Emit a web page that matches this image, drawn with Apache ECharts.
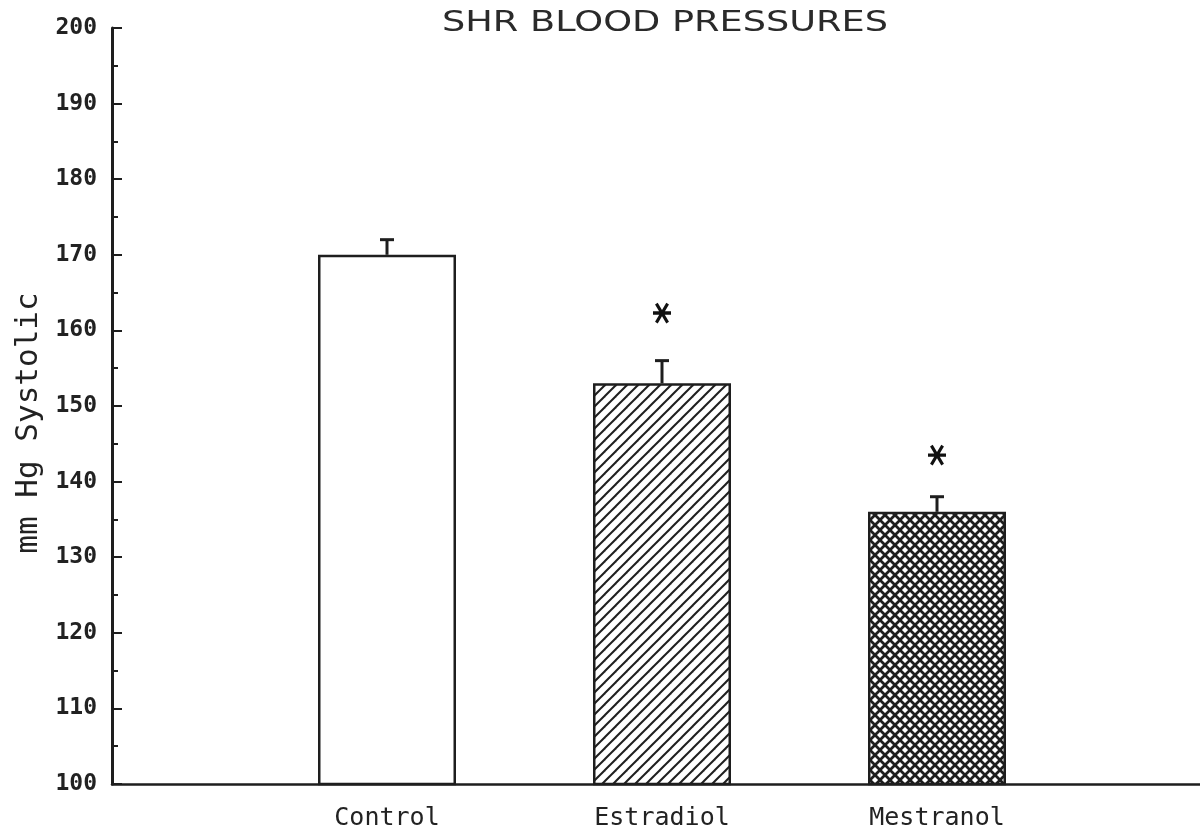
<!DOCTYPE html>
<html>
<head>
<meta charset="utf-8">
<title>SHR Blood Pressures</title>
<script src="https://cdn.jsdelivr.net/npm/echarts@6/dist/echarts.min.js"></script>
<style>
  html, body { margin: 0; padding: 0; background: #ffffff; }
  #chart { width: 1200px; height: 832px; }
</style>
</head>
<body>
<div id="chart"></div>
<script>
// Treatment groups (blank slots at both ends keep the spacing of the plot)
const categories = ['', 'Control', 'Estradiol', 'Mestranol', ''];
// Mean systolic pressure, mm Hg
const meanValues = [null, 170, 153, 136, null];
// Upper end of the error bar, mm Hg
const upperValues = [null, 172, 156, 138, null];
// Height of the significance asterisk, mm Hg
const starValues = [null, null, 162.3, 143.5, null];
// Y axis range and step
const yTicks = { min: 100, max: 200, step: 10 };

const INK = '#1e1e1e';

// Fill patterns drawn on small tiles
function hatchTile(size, width, cross) {
  const c = document.createElement('canvas');
  c.width = size; c.height = size;
  const ctx = c.getContext('2d');
  ctx.fillStyle = '#ffffff';
  ctx.fillRect(0, 0, size, size);
  ctx.strokeStyle = INK;
  ctx.lineWidth = width;
  ctx.lineCap = 'square';
  const seg = (x1, y1, x2, y2) => { ctx.beginPath(); ctx.moveTo(x1, y1); ctx.lineTo(x2, y2); ctx.stroke(); };
  // "/" direction
  seg(-size, 2 * size, 2 * size, -size);
  seg(-size, size, size, -size);
  seg(0, 2 * size, 2 * size, 0);
  if (cross) {
    // "\" direction
    seg(-size, -size, 2 * size, 2 * size);
    seg(-size, 0, size, 2 * size);
    seg(0, -size, 2 * size, size);
  }
  return c;
}

const fills = [
  null,
  '#ffffff',
  { image: hatchTile(11, 2, false), repeat: 'repeat' },
  { image: hatchTile(10, 2.7, true), repeat: 'repeat' },
  null
];

const barData = meanValues.map((v, i) => ({
  value: v,
  itemStyle: { color: fills[i] || '#ffffff', borderColor: INK, borderWidth: 2.5 }
}));

const errorData = meanValues
  .map((v, i) => [i, v, upperValues[i]])
  .filter(d => d[1] != null);

const starData = starValues
  .map((v, i) => [i, v])
  .filter(d => d[1] != null);

const chart = echarts.init(document.getElementById('chart'), null, { renderer: 'canvas' });

chart.setOption({
  backgroundColor: '#ffffff',
  animation: false,
  grid: { left: 112, top: 28, width: 1100, height: 756, containLabel: false, outerBoundsMode: 'none' },
  graphic: [{
    type: 'text',
    x: 665,
    y: 24,
    scaleX: 1.31,
    style: {
      text: 'SHR BLOOD PRESSURES',
      font: '28px "DejaVu Sans"',
      fill: '#2a2a2a',
      align: 'center',
      verticalAlign: 'middle'
    }
  }],
  xAxis: {
    type: 'category',
    data: categories,
    boundaryGap: false,
    axisLine: { lineStyle: { color: INK, width: 2.5 } },
    axisTick: { show: false },
    axisLabel: {
      interval: 0,
      margin: 22,
      color: '#222',
      fontFamily: '"DejaVu Sans Mono"',
      fontSize: 25
    },
    splitLine: { show: false }
  },
  yAxis: {
    type: 'value',
    min: yTicks.min,
    max: yTicks.max,
    interval: yTicks.step,
    name: 'mm Hg Systolic',
    nameLocation: 'middle',
    nameGap: 62,
    nameRotate: 90,
    nameTextStyle: {
      color: '#222',
      fontFamily: '"DejaVu Sans Mono"',
      fontSize: 31,
      padding: [0, 0, 0, -34]
    },
    axisLine: { show: true, lineStyle: { color: INK, width: 3 } },
    axisTick: { show: true, inside: true, length: 10, lineStyle: { color: INK, width: 2 } },
    minorTick: { show: true, splitNumber: 2, length: 6, lineStyle: { color: INK, width: 2 } },
    axisLabel: {
      margin: 15,
      color: '#222',
      fontFamily: '"DejaVu Sans Mono"',
      fontWeight: 'bold',
      fontSize: 23
    },
    splitLine: { show: false },
    minorSplitLine: { show: false }
  },
  series: [
    {
      type: 'bar',
      data: barData,
      barWidth: 138,
      z: 2
    },
    {
      type: 'custom',
      data: errorData,
      z: 3,
      renderItem: function (params, api) {
        const base = api.coord([api.value(0), api.value(1)]);
        const top = api.coord([api.value(0), api.value(2)]);
        const half = 7;
        return {
          type: 'group',
          children: [
            { type: 'line', shape: { x1: base[0], y1: base[1], x2: top[0], y2: top[1] },
              style: { stroke: INK, lineWidth: 3 } },
            { type: 'line', shape: { x1: top[0] - half, y1: top[1], x2: top[0] + half, y2: top[1] },
              style: { stroke: INK, lineWidth: 3 } }
          ]
        };
      }
    },
    {
      type: 'scatter',
      data: starData,
      symbol: 'path://M-5,-8.5L5,8.5M5,-8.5L-5,8.5M-8,0L8,0',
      symbolSize: [18, 19],
      itemStyle: { color: 'none', borderColor: '#111', borderWidth: 3.2, opacity: 1 },
      z: 3
    }
  ]
});
</script>
</body>
</html>
